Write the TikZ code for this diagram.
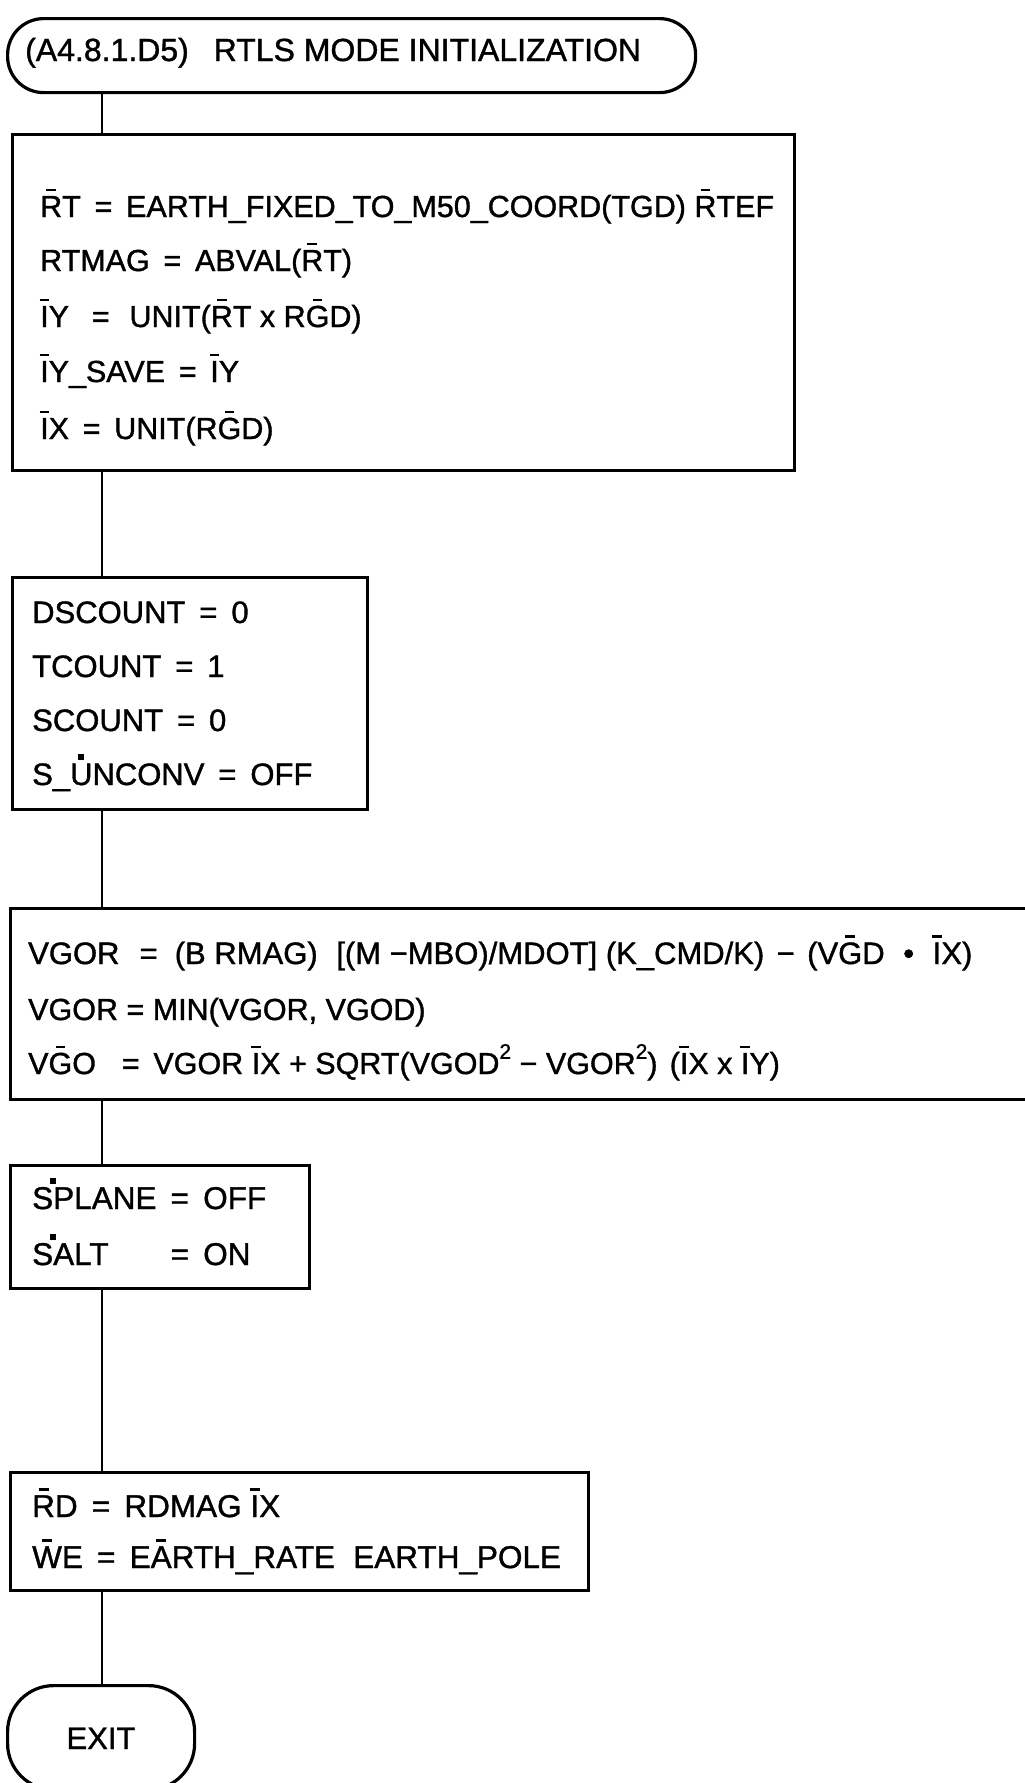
\documentclass[tikz,border=0pt]{standalone}
\usepackage{fontspec}
\setmainfont{Liberation Sans}[FakeBold=1.2]
\newcommand\ob[1]{{\setbox0\hbox{#1}\rlap{\hbox to \wd0{\hss\smash{\raisebox{0.84em}{\rule{0.32em}{0.08em}}}\hss}}\box0}}
\newcommand\dotover[1]{{\setbox0\hbox{#1}\rlap{\hbox to \wd0{\hss\smash{\raisebox{0.8em}{\rule{0.2em}{0.2em}}}\hss}}\box0}}
\newcommand\dotafter{\rlap{\kern-0.1em\smash{\raisebox{0.8em}{\rule{0.2em}{0.2em}}}}}
\newcommand\eqs{\hspace{0.45em}=\hspace{0.45em}}
\newcommand\sqr{\raisebox{0.5em}{\fontsize{21}{21}\selectfont 2}}
\tikzset{
  box/.style={draw, line width=3.2pt, rectangle, inner sep=0pt, anchor=north west},
  term/.style={draw, line width=3.2pt, rectangle, rounded corners=36pt, inner sep=0pt, anchor=north west},
  txt/.style={anchor=base west, inner sep=0pt, font=\fontsize{30.5}{36}\selectfont},
  link/.style={line width=2.6pt}
}
\begin{document}
\begin{tikzpicture}[x=1pt,y=-1pt]
\useasboundingbox (0,0) rectangle (1025,1783);
\coordinate (cx) at (102,0);

% start terminal
\node[term, minimum width=688pt, minimum height=74pt] (start) at (6,17) {};
\node[txt, font=\fontsize{32}{36}\selectfont] (starttext) at (25,61) {(A4.8.1.D5)\hspace{0.5em} RTLS MODE INITIALIZATION};

% box 1
\node[box, minimum width=782pt, minimum height=336pt] (b1) at (11,133) {};
\node[txt] (b1a) at (40,217) {\ob{R}T\eqs EARTH\_FIXED\_TO\_M50\_COORD(TGD) \ob{R}TEF};
\node[txt] (b1b) at (40,271) {RTMAG\eqs ABVAL(\ob{R}T)};
\node[txt] (b1c) at (40,327) {\ob{I}Y\hspace{0.3em}\eqs\hspace{0.2em}UNIT(\ob{R}T x R\ob{G}D)};
\node[txt] (b1d) at (40,382) {\ob{I}Y\_SAVE\eqs\ob{I}Y};
\node[txt] (b1e) at (40,439) {\ob{I}X\eqs UNIT(R\ob{G}D)};

% box 2
\node[box, minimum width=355pt, minimum height=232pt] (b2) at (11,576) {};
\node[txt, font=\fontsize{31}{36}\selectfont] (b2a) at (32,623) {DSCOUNT\eqs 0};
\node[txt, font=\fontsize{31}{36}\selectfont] (b2b) at (32,677) {TCOUNT\eqs 1};
\node[txt, font=\fontsize{31}{36}\selectfont] (b2c) at (32,731) {SCOUNT\eqs 0};
\node[txt, font=\fontsize{31}{36}\selectfont] (b2d) at (32,785) {S\_\dotover{U}NCONV\eqs OFF};

% box 3
\node[box, minimum width=1040pt, minimum height=191pt] (b3) at (9,907) {};
\node[txt, font=\fontsize{31}{36}\selectfont] (b3a) at (28,964) {VGOR\hspace{0.2em}\eqs\hspace{0.1em}(B RMAG)\hspace{0.6em}[(M −MBO)/MDOT] (K\_CMD/K)\hspace{0.4em}−\hspace{0.4em}(V\ob{G}D\hspace{0.6em}•\hspace{0.6em}\ob{I}X)};
\node[txt] (b3b) at (28,1020) {VGOR = MIN(VGOR, VGOD)};
\node[txt] (b3c) at (28,1074) {V\ob{G}O\hspace{0.4em}\eqs VGOR \ob{I}X + SQRT(VGOD\sqr{} − VGOR\sqr)\hspace{0.4em}(\ob{I}X x \ob{I}Y)};

% box 4
\node[box, minimum width=299pt, minimum height=123pt] (b4) at (9,1164) {};
\node[txt, font=\fontsize{31.5}{36}\selectfont] (b4a) at (32,1209) {S\dotafter PLANE\eqs OFF};
\node[txt, font=\fontsize{31.5}{36}\selectfont] (b4b) at (32,1265) {\rlap{S\dotafter ALT}\phantom{SPLANE}\eqs ON};

% box 5
\node[box, minimum width=578pt, minimum height=118pt] (b5) at (9,1471) {};
\node[txt, font=\fontsize{31.5}{36}\selectfont] (b5a) at (32,1517) {\ob{R}D\eqs RDMAG \ob{I}X};
\node[txt, font=\fontsize{31.5}{36}\selectfont] (b5b) at (32,1568) {\ob{W}E\eqs E\ob{A}RTH\_RATE\hspace{0.3em} EARTH\_POLE};

% exit terminal
\node[term, rounded corners=46pt, minimum width=187pt, minimum height=104pt] (exit) at (6,1684) {};
\node[txt, anchor=base, font=\fontsize{31}{36}\selectfont] (exittext) at (101,1749) {EXIT};

% connectors
\draw[link] (start.south -| cx) -- (b1.north -| cx);
\draw[link] (b1.south -| cx) -- (b2.north -| cx);
\draw[link] (b2.south -| cx) -- (b3.north -| cx);
\draw[link] (b3.south -| cx) -- (b4.north -| cx);
\draw[link] (b4.south -| cx) -- (b5.north -| cx);
\draw[link] (b5.south -| cx) -- (exit.north -| cx);
\end{tikzpicture}
\end{document}
